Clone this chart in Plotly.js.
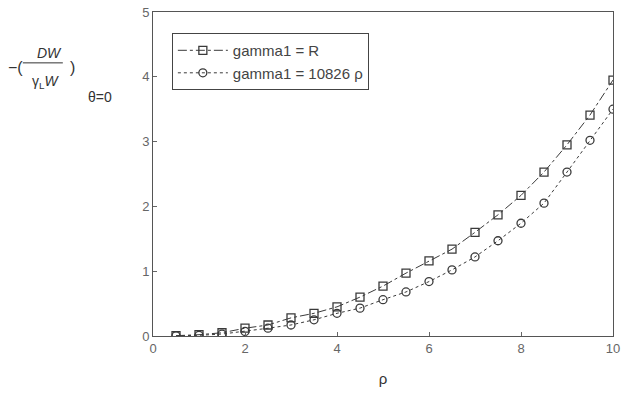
<!DOCTYPE html>
<html>
<head>
<meta charset="utf-8">
<script src="https://cdn.plot.ly/plotly-3.0.1.min.js"></script>
<style>html,body{margin:0;padding:0;background:#fff;}#chart{width:623px;height:393px;}</style>
</head>
<body>
<div id="chart"></div>
<script>
const rho = [0.5, 1, 1.5, 2, 2.5, 3, 3.5, 4, 4.5, 5, 5.5, 6, 6.5, 7, 7.5, 8, 8.5, 9, 9.5, 10];
const gammaR = [0.005, 0.02, 0.05, 0.12, 0.17, 0.28, 0.35, 0.45, 0.6, 0.77, 0.97, 1.16, 1.34, 1.6, 1.87, 2.17, 2.53, 2.95, 3.41, 3.95];
const gammaRho = [0.003, 0.01, 0.03, 0.07, 0.12, 0.17, 0.25, 0.35, 0.43, 0.56, 0.68, 0.84, 1.02, 1.22, 1.47, 1.74, 2.05, 2.53, 3.02, 3.5];
const seriesNames = ['gamma1 = R', 'gamma1 = 10826 ρ'];
const xTicks = [0, 2, 4, 6, 8, 10];
const yTicks = [0, 1, 2, 3, 4, 5];

const ink = '#3a3a3a';
const traces = [
  {x: rho, y: gammaR, name: seriesNames[0], mode: 'lines+markers', type: 'scatter',
   line: {color: ink, width: 1, dash: 'dashdot'},
   marker: {symbol: 'square-open', size: 8, color: ink, line: {width: 1.3}}},
  {x: rho, y: gammaRho, name: seriesNames[1], mode: 'lines+markers', type: 'scatter',
   line: {color: ink, width: 1, dash: 'dot'},
   marker: {symbol: 'circle-open', size: 8, color: ink, line: {width: 1.3}}}
];

const layout = {
  width: 623, height: 393,
  margin: {l: 153, r: 10, t: 12, b: 57},
  paper_bgcolor: '#fff', plot_bgcolor: '#fff',
  font: {family: 'Liberation Sans, Arial, sans-serif', size: 12, color: '#555'},
  showlegend: true,
  legend: {x: 0.041, y: 0.935, xanchor: 'left', yanchor: 'top',
    bgcolor: '#fff', bordercolor: '#444', borderwidth: 1,
    font: {size: 15, color: '#444'}, itemwidth: 50, tracegroupgap: 0},
  xaxis: {range: [0, 10], tickvals: xTicks, ticktext: xTicks.map(String),
    showgrid: false, zeroline: false, showline: true, mirror: true,
    linecolor: '#555', linewidth: 1, ticks: 'inside', ticklen: 4, tickcolor: '#666',
    tickfont: {size: 13, color: '#666'},
    title: {text: 'ρ', font: {size: 15, color: '#333'}, standoff: 18}},
  yaxis: {range: [0, 5], tickvals: yTicks, ticktext: yTicks.map(String),
    showgrid: false, zeroline: false, showline: true, mirror: true,
    linecolor: '#555', linewidth: 1, ticks: 'inside', ticklen: 4, tickcolor: '#666',
    tickfont: {size: 13, color: '#666'}},
  annotations: [
    {xref: 'paper', yref: 'paper', x: -0.30, y: 0.83, text: '−(', showarrow: false,
     font: {size: 16, color: '#333'}, xanchor: 'center', yanchor: 'middle'},
    {xref: 'paper', yref: 'paper', x: -0.226, y: 0.875, text: '<i>DW</i>', showarrow: false,
     font: {size: 14, color: '#333'}, xanchor: 'center', yanchor: 'middle'},
    {xref: 'paper', yref: 'paper', x: -0.234, y: 0.785, text: 'γ<sub>L</sub><i>W</i>', showarrow: false,
     font: {size: 14, color: '#333'}, xanchor: 'center', yanchor: 'middle'},
    {xref: 'paper', yref: 'paper', x: -0.175, y: 0.83, text: ')', showarrow: false,
     font: {size: 16, color: '#333'}, xanchor: 'center', yanchor: 'middle'},
    {xref: 'paper', yref: 'paper', x: -0.115, y: 0.738, text: 'θ=0', showarrow: false,
     font: {size: 14, color: '#333'}, xanchor: 'center', yanchor: 'middle'}
  ],
  shapes: [
    {type: 'line', xref: 'paper', yref: 'paper', x0: -0.283, x1: -0.196, y0: 0.843, y1: 0.843,
     line: {color: '#333', width: 1}}
  ]
};

Plotly.newPlot('chart', traces, layout, {displayModeBar: false, staticPlot: true});
</script>
</body>
</html>
